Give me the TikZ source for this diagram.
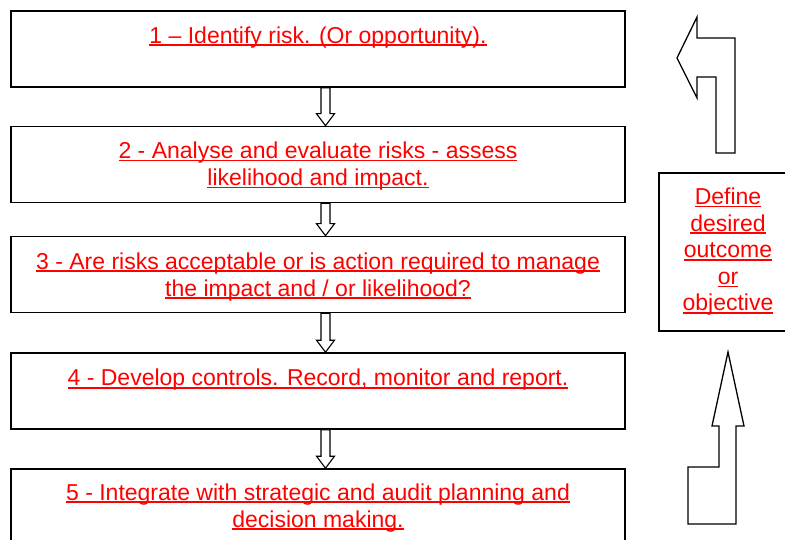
\documentclass[tikz,border=0pt]{standalone}
\usepackage{fontspec}
\setmainfont{Liberation Sans}
\newsavebox\myulbox
\newcommand\uln[1]{\sbox\myulbox{#1}\rlap{\rule[-2.8pt]{\wd\myulbox}{1.6pt}}\usebox\myulbox}
\usetikzlibrary{calc}
\tikzset{
  box/.style={draw=black, line width=1.6pt, minimum width=614pt, minimum height=76pt, inner sep=0pt},
  sidebox/.style={draw=black, line width=1.6pt, minimum width=150pt, minimum height=158pt, inner sep=0pt},
  lbl/.style={text=red, align=center, inner sep=0pt, font=\fontsize{23}{27}\selectfont},
  sidelbl/.style={lbl, font=\fontsize{23}{26.6}\selectfont},
  darrow/.style={draw=black, line width=1.1pt, fill=white, line join=miter},
  bigarrow/.style={draw=black, line width=1.3pt, fill=white, line join=miter},
}
\begin{document}
\begin{tikzpicture}[x=1pt,y=-1pt]
\clip (0,0) rectangle (785,540);
\fill[white] (0,0) rectangle (785,540);
% boxes
\node[box] (b1) at (318,49) {};
\node[box] (b2) at (318,164.5) {};
\node[box] (b3) at (318,274.5) {};
\node[box] (b4) at (318,391) {};
\node[box] (b5) at (318,507) {};
\node[sidebox] (b6) at (734,252) {};
% texts (anchor=base is the baseline of the last line)
\node[lbl, anchor=base] (t1) at ($(b1.north)+(0,33)$) {\uln{1 – Identify risk. (Or opportunity).}};
\node[lbl, anchor=base] (t2) at ($(b2.north)+(0,60)$) {\uln{2 - Analyse and evaluate risks - assess}\\\uln{likelihood and impact.}};
\node[lbl, anchor=base] (t3) at ($(b3.north)+(0,60.5)$) {\uln{3 - Are risks acceptable or is action required to manage}\\\uln{the impact and / or likelihood?}};
\node[lbl, anchor=base] (t4) at ($(b4.north)+(0,33.5)$) {\uln{4 - Develop controls. Record, monitor and report.}};
\node[lbl, anchor=base] (t5) at ($(b5.north)+(0,59)$) {\uln{5 - Integrate with strategic and audit planning and}\\\uln{decision making.}};
\node[sidelbl, anchor=base] (t6) at (728,311) {\uln{Define}\\\uln{desired}\\\uln{outcome}\\\uln{or}\\\uln{objective}};
% down arrows between boxes
\foreach \a/\b in {b1/b2,b2/b3,b3/b4,b4/b5}{
  \draw[darrow] let \p1=(\a.south), \p2=(\b.north) in
    (\x1+3pt,\y1) -- (\x1+3pt,\y2+12pt) -- (\x1-1.5pt,\y2+12pt) -- (\x1+7.5pt,\y2)
    -- (\x1+16.5pt,\y2+12pt) -- (\x1+12pt,\y2+12pt) -- (\x1+12pt,\y1) -- cycle;
}
% upper-right bent arrow
\draw[bigarrow] (677,58) -- (697,17) -- (697,38) -- (735,38) -- (735,153) -- (716,153)
  -- (716,77) -- (697,77) -- (697,98) -- cycle;
% lower-right bent arrow
\draw[bigarrow] (728,352) -- (744,426) -- (736,426) -- (736,524) -- (688,524) -- (688,467)
  -- (719,467) -- (719,426) -- (712,426) -- cycle;
\end{tikzpicture}
\end{document}
